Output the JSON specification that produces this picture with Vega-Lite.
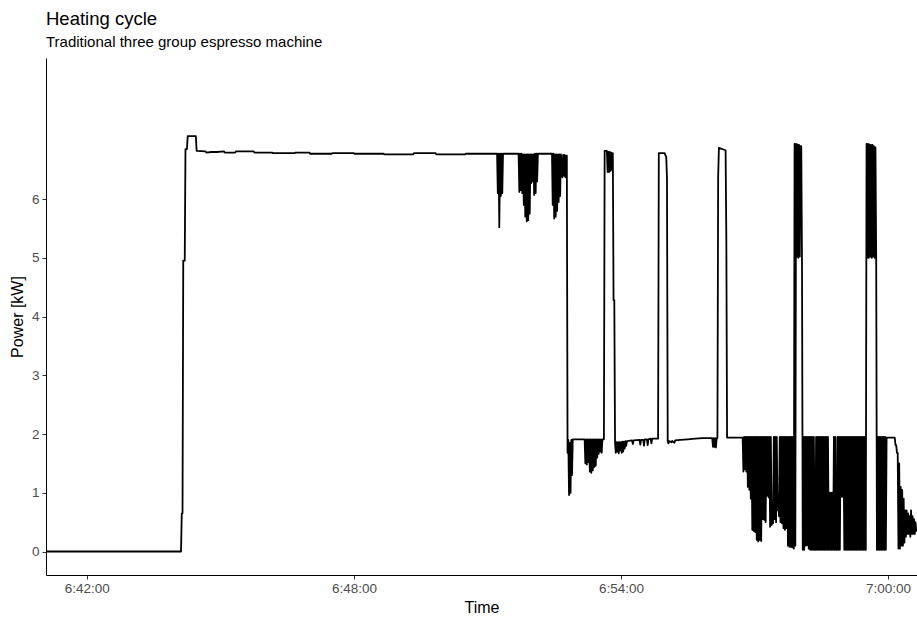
{
"$schema":"https://vega.github.io/schema/vega-lite/v6.json",
"width":871,"height":517,
"autosize":{"type":"none"},
"padding":{"left":46,"top":58,"right":0,"bottom":48},
"background":"white",
"title":{"text":"Heating cycle","subtitle":"Traditional three group espresso machine","anchor":"start","frame":"group","font":"Liberation Sans","fontSize":18.5,"fontWeight":"normal","color":"black","subtitleFont":"Liberation Sans","subtitleFontSize":15,"subtitleColor":"black","subtitlePadding":7,"offset":8},
"data":{"format":{"parse":{"time":"utc:'%H:%M:%S'"}},"values":[
{"time":"06:41:05","kW":0},{"time":"06:44:07","kW":0},{"time":"06:44:08","kW":0.65},{"time":"06:44:09","kW":0.65},{"time":"06:44:10","kW":4.95},{"time":"06:44:12","kW":4.95},{"time":"06:44:13","kW":6.85},{"time":"06:44:15","kW":6.85},{"time":"06:44:16","kW":7.07},{"time":"06:44:27","kW":7.07},{"time":"06:44:28","kW":6.82},{"time":"06:44:40","kW":6.81},{"time":"06:44:41","kW":6.79},{"time":"06:44:48","kW":6.8},{"time":"06:44:55","kW":6.8},{"time":"06:45:05","kW":6.81},{"time":"06:45:06","kW":6.79},{"time":"06:45:20","kW":6.79},{"time":"06:45:21","kW":6.81},{"time":"06:45:45","kW":6.81},{"time":"06:45:46","kW":6.79},{"time":"06:46:10","kW":6.79},{"time":"06:46:11","kW":6.78},{"time":"06:46:40","kW":6.78},{"time":"06:46:41","kW":6.79},{"time":"06:47:00","kW":6.79},{"time":"06:47:01","kW":6.77},{"time":"06:47:30","kW":6.77},{"time":"06:47:31","kW":6.78},{"time":"06:48:00","kW":6.78},{"time":"06:48:01","kW":6.77},{"time":"06:48:40","kW":6.77},{"time":"06:48:41","kW":6.76},{"time":"06:49:20","kW":6.76},{"time":"06:49:21","kW":6.78},{"time":"06:49:50","kW":6.78},{"time":"06:49:51","kW":6.76},{"time":"06:50:30","kW":6.76},{"time":"06:50:31","kW":6.77},{"time":"06:51:13","kW":6.77},
{"time":"06:51:14","kW":6.1},{"time":"06:51:15","kW":6.77},{"time":"06:51:16","kW":5.52},{"time":"06:51:17","kW":6.77},{"time":"06:51:18","kW":6.05},{"time":"06:51:19","kW":6.77},{"time":"06:51:20","kW":6.1},{"time":"06:51:21","kW":6.77},{"time":"06:51:42","kW":6.77},
{"time":"06:51:43","kW":6.12},{"time":"06:51:44","kW":6.77},{"time":"06:51:45","kW":6.15},{"time":"06:51:46","kW":6.77},{"time":"06:51:47","kW":6.1},{"time":"06:51:48","kW":6.76},{"time":"06:51:49","kW":5.9},{"time":"06:51:50","kW":6.76},{"time":"06:51:51","kW":5.7},{"time":"06:51:52","kW":6.76},{"time":"06:51:53","kW":5.62},{"time":"06:51:54","kW":6.76},{"time":"06:51:55","kW":5.64},{"time":"06:51:56","kW":6.76},{"time":"06:51:57","kW":5.75},{"time":"06:51:58","kW":6.76},{"time":"06:51:59","kW":6.27},{"time":"06:52:00","kW":6.76},{"time":"06:52:01","kW":6.3},{"time":"06:52:02","kW":6.76},{"time":"06:52:03","kW":6.07},{"time":"06:52:04","kW":6.77},{"time":"06:52:05","kW":6.1},{"time":"06:52:06","kW":6.77},{"time":"06:52:07","kW":6.3},{"time":"06:52:08","kW":6.77},{"time":"06:52:27","kW":6.77},
{"time":"06:52:28","kW":5.9},{"time":"06:52:29","kW":6.77},{"time":"06:52:30","kW":5.67},{"time":"06:52:31","kW":6.76},{"time":"06:52:32","kW":5.7},{"time":"06:52:33","kW":6.76},{"time":"06:52:34","kW":5.8},{"time":"06:52:35","kW":6.76},{"time":"06:52:36","kW":5.95},{"time":"06:52:37","kW":6.76},{"time":"06:52:38","kW":6.05},{"time":"06:52:39","kW":6.76},{"time":"06:52:41","kW":6.37},{"time":"06:52:42","kW":6.75},{"time":"06:52:43","kW":6.4},{"time":"06:52:44","kW":6.75},{"time":"06:52:45","kW":6.37},{"time":"06:52:46","kW":6.74},{"time":"06:52:47","kW":6.74},
{"time":"06:52:48","kW":1.68},{"time":"06:52:49","kW":1.9},{"time":"06:52:50","kW":0.96},{"time":"06:52:51","kW":1.85},{"time":"06:52:52","kW":1.0},{"time":"06:52:53","kW":1.9},{"time":"06:52:54","kW":1.3},{"time":"06:52:55","kW":1.91},{"time":"06:53:11","kW":1.91},{"time":"06:53:12","kW":1.5},{"time":"06:53:13","kW":1.91},{"time":"06:53:14","kW":1.48},{"time":"06:53:15","kW":1.91},{"time":"06:53:16","kW":1.52},{"time":"06:53:17","kW":1.91},{"time":"06:53:18","kW":1.36},{"time":"06:53:19","kW":1.91},{"time":"06:53:20","kW":1.34},{"time":"06:53:21","kW":1.91},{"time":"06:53:22","kW":1.38},{"time":"06:53:23","kW":1.91},{"time":"06:53:24","kW":1.44},{"time":"06:53:25","kW":1.91},{"time":"06:53:26","kW":1.46},{"time":"06:53:27","kW":1.91},{"time":"06:53:28","kW":1.6},{"time":"06:53:29","kW":1.91},{"time":"06:53:30","kW":1.66},{"time":"06:53:31","kW":1.91},{"time":"06:53:32","kW":1.7},{"time":"06:53:33","kW":1.91},{"time":"06:53:34","kW":1.68},{"time":"06:53:35","kW":1.91},{"time":"06:53:37","kW":1.91},
{"time":"06:53:38","kW":6.82},{"time":"06:53:41","kW":6.82},{"time":"06:53:42","kW":6.46},{"time":"06:53:43","kW":6.8},{"time":"06:53:44","kW":6.46},{"time":"06:53:45","kW":6.8},{"time":"06:53:46","kW":6.48},{"time":"06:53:47","kW":6.79},{"time":"06:53:48","kW":6.5},{"time":"06:53:49","kW":6.78},{"time":"06:53:50","kW":4.28},{"time":"06:53:51","kW":4.28},{"time":"06:53:52","kW":1.85},
{"time":"06:53:53","kW":1.68},{"time":"06:53:54","kW":1.86},{"time":"06:53:55","kW":1.7},{"time":"06:53:56","kW":1.86},{"time":"06:53:57","kW":1.67},{"time":"06:53:58","kW":1.86},{"time":"06:53:59","kW":1.72},{"time":"06:54:00","kW":1.86},{"time":"06:54:01","kW":1.68},{"time":"06:54:02","kW":1.87},{"time":"06:54:03","kW":1.7},{"time":"06:54:04","kW":1.87},{"time":"06:54:05","kW":1.75},{"time":"06:54:06","kW":1.88},{"time":"06:54:07","kW":1.8},{"time":"06:54:08","kW":1.88},{"time":"06:54:15","kW":1.89},{"time":"06:54:16","kW":1.83},{"time":"06:54:17","kW":1.89},{"time":"06:54:25","kW":1.9},{"time":"06:54:26","kW":1.82},{"time":"06:54:27","kW":1.9},{"time":"06:54:30","kW":1.9},{"time":"06:54:31","kW":1.8},{"time":"06:54:32","kW":1.91},{"time":"06:54:35","kW":1.91},{"time":"06:54:36","kW":1.81},{"time":"06:54:37","kW":1.91},{"time":"06:54:40","kW":1.92},{"time":"06:54:41","kW":1.84},{"time":"06:54:42","kW":1.92},{"time":"06:54:50","kW":1.92},
{"time":"06:54:51","kW":6.78},{"time":"06:54:59","kW":6.78},{"time":"06:55:00","kW":6.74},{"time":"06:55:01","kW":6.72},{"time":"06:55:02","kW":6.36},{"time":"06:55:03","kW":1.88},
{"time":"06:55:04","kW":1.84},{"time":"06:55:05","kW":1.88},{"time":"06:55:08","kW":1.86},{"time":"06:55:09","kW":1.88},{"time":"06:55:12","kW":1.85},{"time":"06:55:13","kW":1.89},{"time":"06:55:20","kW":1.9},{"time":"06:55:30","kW":1.91},{"time":"06:55:40","kW":1.92},{"time":"06:55:50","kW":1.93},{"time":"06:56:03","kW":1.93},{"time":"06:56:04","kW":1.78},{"time":"06:56:05","kW":1.93},{"time":"06:56:06","kW":1.78},{"time":"06:56:07","kW":1.93},{"time":"06:56:08","kW":1.77},{"time":"06:56:09","kW":1.93},{"time":"06:56:10","kW":1.93},
{"time":"06:56:11","kW":6.38},{"time":"06:56:12","kW":6.87},{"time":"06:56:21","kW":6.83},{"time":"06:56:22","kW":5.34},{"time":"06:56:23","kW":1.94},{"time":"06:56:44","kW":1.94},
{"time":"06:56:45","kW":1.36},{"time":"06:56:46","kW":1.95},{"time":"06:56:47","kW":1.4},{"time":"06:56:48","kW":1.95},{"time":"06:56:49","kW":1.36},{"time":"06:56:50","kW":1.95},{"time":"06:56:51","kW":1.1},{"time":"06:56:52","kW":1.95},{"time":"06:56:53","kW":1.05},{"time":"06:56:54","kW":1.95},{"time":"06:56:55","kW":0.9},{"time":"06:56:56","kW":1.95},{"time":"06:56:57","kW":0.37},{"time":"06:56:58","kW":1.95},{"time":"06:56:59","kW":0.35},{"time":"06:57:00","kW":1.95},{"time":"06:57:01","kW":0.33},{"time":"06:57:02","kW":1.95},{"time":"06:57:03","kW":0.2},{"time":"06:57:04","kW":1.95},{"time":"06:57:05","kW":0.17},{"time":"06:57:06","kW":1.95},{"time":"06:57:07","kW":0.2},{"time":"06:57:08","kW":1.95},{"time":"06:57:09","kW":0.18},{"time":"06:57:10","kW":1.95},{"time":"06:57:11","kW":0.55},{"time":"06:57:12","kW":1.95},{"time":"06:57:13","kW":0.54},{"time":"06:57:14","kW":1.95},{"time":"06:57:15","kW":0.5},{"time":"06:57:16","kW":1.95},{"time":"06:57:17","kW":0.95},{"time":"06:57:18","kW":1.95},{"time":"06:57:19","kW":0.92},{"time":"06:57:20","kW":1.95},{"time":"06:57:21","kW":0.42},{"time":"06:57:22","kW":1.95},{"time":"06:57:23","kW":0.45},{"time":"06:57:24","kW":0.6},{"time":"06:57:25","kW":0.48},{"time":"06:57:26","kW":1.95},{"time":"06:57:27","kW":0.55},{"time":"06:57:28","kW":1.95},{"time":"06:57:29","kW":0.5},{"time":"06:57:30","kW":1.95},{"time":"06:57:31","kW":0.7},{"time":"06:57:32","kW":0.9},{"time":"06:57:33","kW":0.6},{"time":"06:57:34","kW":1.95},{"time":"06:57:35","kW":0.5},{"time":"06:57:36","kW":1.95},{"time":"06:57:37","kW":0.48},{"time":"06:57:38","kW":1.95},{"time":"06:57:39","kW":0.4},{"time":"06:57:40","kW":1.95},{"time":"06:57:41","kW":0.37},{"time":"06:57:42","kW":1.95},{"time":"06:57:43","kW":0.4},{"time":"06:57:44","kW":1.95},{"time":"06:57:45","kW":0.1},{"time":"06:57:46","kW":1.95},{"time":"06:57:47","kW":0.08},{"time":"06:57:48","kW":1.95},{"time":"06:57:49","kW":0.08},{"time":"06:57:50","kW":1.95},{"time":"06:57:51","kW":0.07},{"time":"06:57:52","kW":1.95},
{"time":"06:57:53","kW":0.05},{"time":"06:57:54","kW":6.94},{"time":"06:57:55","kW":0.1},{"time":"06:57:56","kW":6.94},{"time":"06:57:57","kW":5.02},{"time":"06:57:58","kW":6.93},{"time":"06:57:59","kW":5.0},{"time":"06:58:00","kW":6.92},{"time":"06:58:01","kW":5.02},{"time":"06:58:02","kW":6.9},{"time":"06:58:03","kW":6.9},{"time":"06:58:04","kW":4.92},{"time":"06:58:05","kW":0.03},
{"time":"06:58:06","kW":1.95},{"time":"06:58:07","kW":0.03},{"time":"06:58:08","kW":1.95},{"time":"06:58:09","kW":0.1},{"time":"06:58:10","kW":1.95},{"time":"06:58:11","kW":0.11},{"time":"06:58:12","kW":1.95},{"time":"06:58:13","kW":0.05},{"time":"06:58:14","kW":1.95},{"time":"06:58:15","kW":0.03},{"time":"06:58:16","kW":1.95},{"time":"06:58:17","kW":0.03},{"time":"06:58:18","kW":1.95},{"time":"06:58:19","kW":0.03},{"time":"06:58:20","kW":1.95},{"time":"06:58:21","kW":0.03},{"time":"06:58:22","kW":0.03},{"time":"06:58:23","kW":1.95},{"time":"06:58:24","kW":0.03},{"time":"06:58:25","kW":1.95},{"time":"06:58:26","kW":0.03},{"time":"06:58:27","kW":1.95},{"time":"06:58:28","kW":0.03},{"time":"06:58:29","kW":1.95},{"time":"06:58:30","kW":0.03},{"time":"06:58:31","kW":1.95},{"time":"06:58:32","kW":0.03},{"time":"06:58:33","kW":1.95},{"time":"06:58:34","kW":0.03},{"time":"06:58:35","kW":1.95},{"time":"06:58:36","kW":0.03},{"time":"06:58:37","kW":1.95},{"time":"06:58:38","kW":0.03},{"time":"06:58:39","kW":1.95},{"time":"06:58:40","kW":0.03},{"time":"06:58:41","kW":1.0},{"time":"06:58:42","kW":0.03},{"time":"06:58:43","kW":1.0},{"time":"06:58:44","kW":0.03},{"time":"06:58:45","kW":1.0},{"time":"06:58:46","kW":0.03},{"time":"06:58:47","kW":1.95},{"time":"06:58:48","kW":0.03},{"time":"06:58:49","kW":1.95},{"time":"06:58:50","kW":0.03},{"time":"06:58:51","kW":0.03},{"time":"06:58:52","kW":1.95},{"time":"06:58:53","kW":0.03},{"time":"06:58:54","kW":1.95},{"time":"06:58:55","kW":0.03},{"time":"06:58:56","kW":1.95},{"time":"06:58:57","kW":0.93},{"time":"06:58:58","kW":1.95},{"time":"06:58:59","kW":0.93},{"time":"06:59:00","kW":1.95},{"time":"06:59:01","kW":0.03},{"time":"06:59:02","kW":1.95},{"time":"06:59:03","kW":0.03},{"time":"06:59:04","kW":1.95},{"time":"06:59:05","kW":0.03},{"time":"06:59:06","kW":1.95},{"time":"06:59:07","kW":0.03},{"time":"06:59:08","kW":1.95},{"time":"06:59:09","kW":0.03},{"time":"06:59:10","kW":1.95},{"time":"06:59:11","kW":0.03},{"time":"06:59:12","kW":1.95},{"time":"06:59:13","kW":0.03},{"time":"06:59:14","kW":1.95},{"time":"06:59:15","kW":0.03},{"time":"06:59:16","kW":1.95},{"time":"06:59:17","kW":0.03},{"time":"06:59:18","kW":1.95},{"time":"06:59:19","kW":0.03},{"time":"06:59:20","kW":1.95},{"time":"06:59:21","kW":0.03},{"time":"06:59:22","kW":1.95},{"time":"06:59:23","kW":0.03},{"time":"06:59:24","kW":1.95},{"time":"06:59:25","kW":0.03},{"time":"06:59:26","kW":1.95},{"time":"06:59:27","kW":0.03},{"time":"06:59:28","kW":1.95},{"time":"06:59:29","kW":0.03},{"time":"06:59:30","kW":0.03},
{"time":"06:59:31","kW":6.94},{"time":"06:59:32","kW":5.0},{"time":"06:59:33","kW":6.94},{"time":"06:59:34","kW":5.0},{"time":"06:59:35","kW":6.93},{"time":"06:59:36","kW":5.02},{"time":"06:59:37","kW":6.92},{"time":"06:59:38","kW":5.0},{"time":"06:59:39","kW":6.92},{"time":"06:59:40","kW":5.02},{"time":"06:59:41","kW":6.9},{"time":"06:59:42","kW":5.0},{"time":"06:59:43","kW":6.88},{"time":"06:59:44","kW":5.0},{"time":"06:59:45","kW":0.03},
{"time":"06:59:46","kW":1.95},{"time":"06:59:47","kW":0.03},{"time":"06:59:48","kW":1.95},{"time":"06:59:49","kW":0.03},{"time":"06:59:50","kW":1.95},{"time":"06:59:51","kW":0.03},{"time":"06:59:52","kW":1.95},{"time":"06:59:53","kW":0.03},{"time":"06:59:54","kW":1.95},{"time":"06:59:55","kW":0.03},{"time":"06:59:56","kW":1.95},{"time":"06:59:57","kW":0.03},{"time":"06:59:58","kW":1.94},{"time":"07:00:09","kW":1.94},{"time":"07:00:10","kW":1.81},{"time":"07:00:11","kW":1.81},{"time":"07:00:12","kW":1.68},{"time":"07:00:13","kW":1.68},{"time":"07:00:14","kW":0.05},{"time":"07:00:15","kW":1.5},{"time":"07:00:16","kW":0.05},{"time":"07:00:17","kW":1.1},{"time":"07:00:18","kW":0.1},{"time":"07:00:19","kW":1.05},{"time":"07:00:20","kW":0.1},{"time":"07:00:21","kW":0.9},{"time":"07:00:22","kW":0.15},{"time":"07:00:23","kW":0.7},{"time":"07:00:24","kW":0.25},{"time":"07:00:25","kW":0.7},{"time":"07:00:26","kW":0.3},{"time":"07:00:27","kW":0.65},{"time":"07:00:28","kW":0.3},{"time":"07:00:29","kW":0.6},{"time":"07:00:30","kW":0.25},{"time":"07:00:31","kW":0.7},{"time":"07:00:32","kW":0.3},{"time":"07:00:33","kW":0.6},{"time":"07:00:34","kW":0.3},{"time":"07:00:35","kW":0.55},{"time":"07:00:36","kW":0.3},{"time":"07:00:37","kW":0.5},{"time":"07:00:38","kW":0.35},{"time":"07:00:39","kW":0.37}
]},
"mark":{"type":"line","color":"black","strokeWidth":1.8,"strokeJoin":"round","clip":true},
"encoding":{
"x":{"field":"time","type":"temporal","scale":{"type":"utc","domain":[{"year":1900,"month":1,"date":1,"hours":6,"minutes":41,"seconds":5,"utc":true},{"year":1900,"month":1,"date":1,"hours":7,"minutes":0,"seconds":39,"utc":true}]},
"axis":{"title":"Time","values":[{"year":1900,"month":1,"date":1,"hours":6,"minutes":42,"utc":true},{"year":1900,"month":1,"date":1,"hours":6,"minutes":48,"utc":true},{"year":1900,"month":1,"date":1,"hours":6,"minutes":54,"utc":true},{"year":1900,"month":1,"date":1,"hours":7,"minutes":0,"utc":true}],"labelExpr":"utcFormat(datum.value, '%-H:%M:%S')","grid":false,"domainColor":"black","domainWidth":1,"tickColor":"#333333","tickSize":4,"labelFont":"Liberation Sans","labelFontSize":13.5,"labelColor":"#4d4d4d","labelPadding":2,"labelFlush":false,"labelOverlap":false,"titleFont":"Liberation Sans","titleFontSize":16,"titleFontWeight":"normal","titleColor":"black","titlePadding":5}},
"y":{"field":"kW","type":"quantitative","scale":{"domain":[-0.4,8.4],"nice":false,"zero":false},
"axis":{"title":"Power [kW]","values":[0,1,2,3,4,5,6],"grid":false,"domainColor":"black","domainWidth":1,"tickColor":"#333333","tickSize":4,"labelFont":"Liberation Sans","labelFontSize":13.5,"labelColor":"#4d4d4d","labelPadding":3,"labelFlush":false,"titleFont":"Liberation Sans","titleFontSize":16,"titleFontWeight":"normal","titleColor":"black","titlePadding":6}}
},
"config":{"view":{"stroke":null}}
}
